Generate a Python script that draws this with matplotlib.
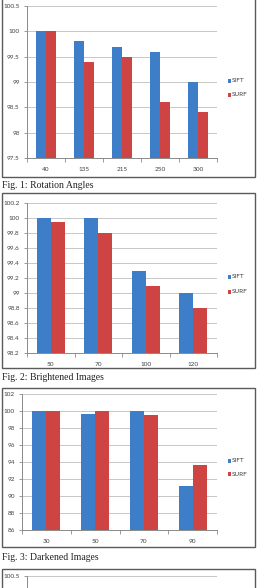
import matplotlib
matplotlib.use('Agg')
import matplotlib.pyplot as plt
from matplotlib.patches import Rectangle
import numpy as np

W, H = 258, 588

rot_cats = ['40', '135', '215', '250', '300']
rot_sift = [100, 99.8, 99.7, 99.6, 99.0]
rot_surf = [100, 99.4, 99.5, 98.6, 98.4]

bri_cats = ['50', '70', '100', '120']
bri_sift = [100, 100, 99.3, 99.0]
bri_surf = [99.95, 99.8, 99.1, 98.8]

dark_cats = ['30', '50', '70', '90']
dark_sift = [100, 99.6, 100, 91.2]
dark_surf = [100, 99.9, 99.5, 93.6]

series_names = ['SIFT', 'SURF']
captions = ['Fig. 1: Rotation Angles', 'Fig. 2: Brightened Images', 'Fig. 3: Darkened Images']

BLUE = '#3E7DC8'
RED = '#CD4443'
GRID = '#BEBEBE'
TXT = '#404040'
TFONT = 'Lato'
TS = 4.6

fig = plt.figure(figsize=(W / 100, H / 100), dpi=100)


def rect(x0, y0, x1, y1):
    return [x0 / W, 1 - y1 / H, (x1 - x0) / W, (y1 - y0) / H]


def box(y0, y1):
    fig.patches.append(Rectangle((1.5 / W, 1 - y1 / H), (255 - 1.5) / W, (y1 - y0) / H,
                                 transform=fig.transFigure, fill=False,
                                 edgecolor='#5a5a5a', linewidth=1.0))


def caption(y, text):
    fig.text(2 / W, 1 - y / H, text, ha='left', va='center',
             family='Liberation Serif', fontsize=7.0, color='#222222')


def legend(ys):
    for yc, name, col in zip(ys, series_names, [BLUE, RED]):
        fig.patches.append(Rectangle((228 / W, 1 - (yc + 2) / H), 3 / W, 4 / H,
                                     transform=fig.transFigure, color=col, linewidth=0))
        fig.text(231.5 / W, 1 - yc / H, name, ha='left', va='center',
                 family=TFONT, fontsize=TS, color=TXT)


def panel(r, cats, s1, s2, ylim, step, width, fmt):
    ax = fig.add_axes(r)
    x = np.arange(len(cats))
    ax.bar(x - width / 2, s1, width, color=BLUE, zorder=3)
    ax.bar(x + width / 2, s2, width, color=RED, zorder=3)
    ax.set_xlim(-0.5, len(cats) - 0.5)
    ax.set_ylim(*ylim)
    ticks = np.arange(ylim[0], ylim[1] + step / 2, step)
    ax.set_yticks(ticks)
    ax.set_yticklabels([fmt(t) for t in ticks], family=TFONT, fontsize=TS, color=TXT)
    ax.set_xticks(x)
    ax.set_xticklabels(cats, family=TFONT, fontsize=TS, color=TXT)
    ax.set_xticks(np.arange(-0.5, len(cats)), minor=True)
    ax.tick_params(axis='x', which='major', length=0, pad=6.5)
    ax.tick_params(axis='x', which='minor', length=3, width=0.6, color='#8a8a8a')
    ax.tick_params(axis='y', length=2.5, width=0.6, color='#8a8a8a', pad=2.8)
    ax.yaxis.grid(True, color=GRID, linewidth=0.6, zorder=0)
    ax.set_axisbelow(True)
    for s in ['top', 'right']:
        ax.spines[s].set_visible(False)
    for s in ['left', 'bottom']:
        ax.spines[s].set_color('#8a8a8a')
        ax.spines[s].set_linewidth(0.7)
    return ax


def f1(t):
    return ('%g' % round(t, 2))


# Panel 1
box(-5, 177)
panel(rect(27, 6, 217, 158), rot_cats, rot_sift, rot_surf, (97.5, 100.5), 0.5, 0.27, f1)
legend([80.5, 95])
caption(186, captions[0])

# Panel 2
box(193, 368)
panel(rect(27, 203.3, 217, 353), bri_cats, bri_sift, bri_surf, (98.2, 100.2), 0.2, 0.29,
      lambda t: '%g' % round(t, 1))
legend([276.7, 291.7])
caption(378, captions[1])

# Panel 3
box(388, 547)
panel(rect(22, 393.5, 217, 530.3), dark_cats, dark_sift, dark_surf, (86, 102), 2, 0.285,
      lambda t: '%d' % round(t))
legend([460.7, 474])
caption(557, captions[2])

# Panel 4 (cut off)
box(569, 600)
ax4 = fig.add_axes(rect(27, 576, 217, 726))
ax4.set_ylim(97.5, 100.5)
ax4.set_xlim(0, 1)
ax4.set_yticks([100.5])
ax4.set_yticklabels(['100.5'], family=TFONT, fontsize=TS, color=TXT)
ax4.set_xticks([])
ax4.tick_params(axis='y', length=2.5, width=0.6, color='#8a8a8a', pad=2.8)
ax4.yaxis.grid(True, color=GRID, linewidth=0.6)
for s in ['top', 'right', 'bottom']:
    ax4.spines[s].set_visible(False)
ax4.spines['left'].set_color('#8a8a8a')
ax4.spines['left'].set_linewidth(0.7)

fig.savefig('out.png', dpi=100)
